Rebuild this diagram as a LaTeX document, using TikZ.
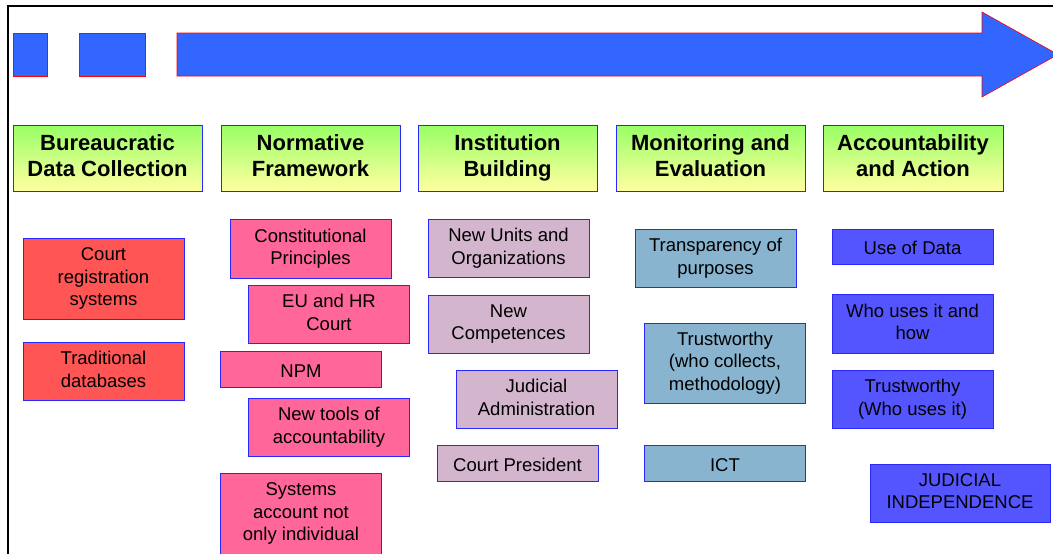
\documentclass[tikz,border=0pt]{standalone}
\usepackage{fontspec}
\setmainfont{Liberation Sans}
\usetikzlibrary{positioning}
\definecolor{arrowblue}{RGB}{51,102,255}
\definecolor{boxline}{RGB}{40,40,255}
\definecolor{headtop}{RGB}{153,255,102}
\definecolor{headbot}{RGB}{255,255,160}
\definecolor{datared}{RGB}{255,85,85}
\definecolor{normpink}{RGB}{255,102,153}
\definecolor{instmauve}{RGB}{212,181,206}
\definecolor{monblue}{RGB}{136,180,208}
\definecolor{actblue}{RGB}{85,85,255}
\tikzset{
  head/.style={draw=boxline,line width=1pt,top color=headtop,bottom color=headbot,
    minimum height=66pt,inner sep=0pt,align=center,font=\fontsize{22}{26}\selectfont\bfseries,
    execute at begin node={\rule{0pt}{0.95em}},execute at end node={\rule[-0.21em]{0pt}{0.9em}}},
  item/.style={draw=boxline,line width=1pt,minimum width=161pt,inner sep=0pt,
    align=center,font=\fontsize{18.5}{22.5}\selectfont,
    execute at begin node={\rule{0pt}{1.1em}},execute at end node={\rule[-0.21em]{0pt}{0.9em}}},
  bar/.style={fill=arrowblue,draw=red,line width=0.6pt}
}

\begin{document}
\begin{tikzpicture}[x=1pt,y=-1pt]
\useasboundingbox (0,0) rectangle (1053,554);
% \draw[help lines,step=50] (0,0) grid (1053,554);
\draw[line width=1.2pt] (1060,6) -- (8,6) -- (8,560);
%
\filldraw[bar] (13,33) rectangle (47,76);
\filldraw[bar] (79,33) rectangle (145,76);
\filldraw[bar] (177,33) -- (982,33) -- (982,12) -- (1058,54.5) -- (982,97) -- (982,76) -- (177,76) -- cycle;
%
\node (h1) [head,minimum width=189pt] at (107.5,158) {Bureaucratic\\Data Collection};
\node (h2) [head,minimum width=179pt] at (310.5,158) {Normative\\Framework};
\node (h3) [head,minimum width=179pt] at (507.5,158) {Institution\\Building};
\node (h4) [head,minimum width=189pt] at (710.5,158) {Monitoring and\\Evaluation};
\node (h5) [head,minimum width=180pt] at (913,158) {Accountability\\and Action};
%
\node (court) [item,fill=datared,minimum height=81pt] at (103.5,278.5) {Court\\registration\\systems};
\node (tradi) [item,fill=datared,minimum height=58pt] at (103.5,371) {Traditional\\databases};
%
\node (const) [item,fill=normpink,minimum height=59pt] at (310.5,248.5) {Constitutional\\Principles};
\node (euhr) [item,fill=normpink,minimum height=58pt] at (329,314) {EU and HR\\Court};
\node (npm) [item,fill=normpink,minimum height=36pt] at (301,369) {NPM};
\node (tools) [item,fill=normpink,minimum height=58pt] at (329,427) {New tools of\\accountability};
\node (systems) [item,fill=normpink,minimum height=81pt] at (301,513.5) {Systems\\account not\\only individual};
%
\node (units) [item,fill=instmauve,minimum height=58pt] at (508.5,248) {New Units and\\Organizations};
\node (compet) [item,fill=instmauve,minimum height=58pt] at (508.5,324) {New\\Competences};
\node (admin) [item,fill=instmauve,minimum height=58pt] at (536.5,399) {Judicial\\Administration};
\node (pres) [item,fill=instmauve,minimum height=36pt] at (517.5,463) {Court President};
%
\node (transp) [item,fill=monblue,minimum height=58pt] at (715.5,258) {Transparency of\\purposes};
\node (trust) [item,fill=monblue,minimum height=80pt] at (725,363) {Trustworthy\\(who collects,\\methodology)};
\node (ict) [item,fill=monblue,minimum height=36pt] at (725,463) {ICT};
%
\node (usedata) [item,fill=actblue,minimum height=35pt] at (912.5,246.5) {Use of Data};
\node (whouses) [item,fill=actblue,minimum height=59pt] at (912.5,323.5) {Who uses it and\\how};
\node (trustuse) [item,fill=actblue,minimum height=58pt] at (912.5,399) {Trustworthy\\(Who uses it)};
\node (indep) [item,fill=actblue,minimum width=180pt,minimum height=58pt] at (960,493) {JUDICIAL\\INDEPENDENCE};
\end{tikzpicture}
\end{document}
